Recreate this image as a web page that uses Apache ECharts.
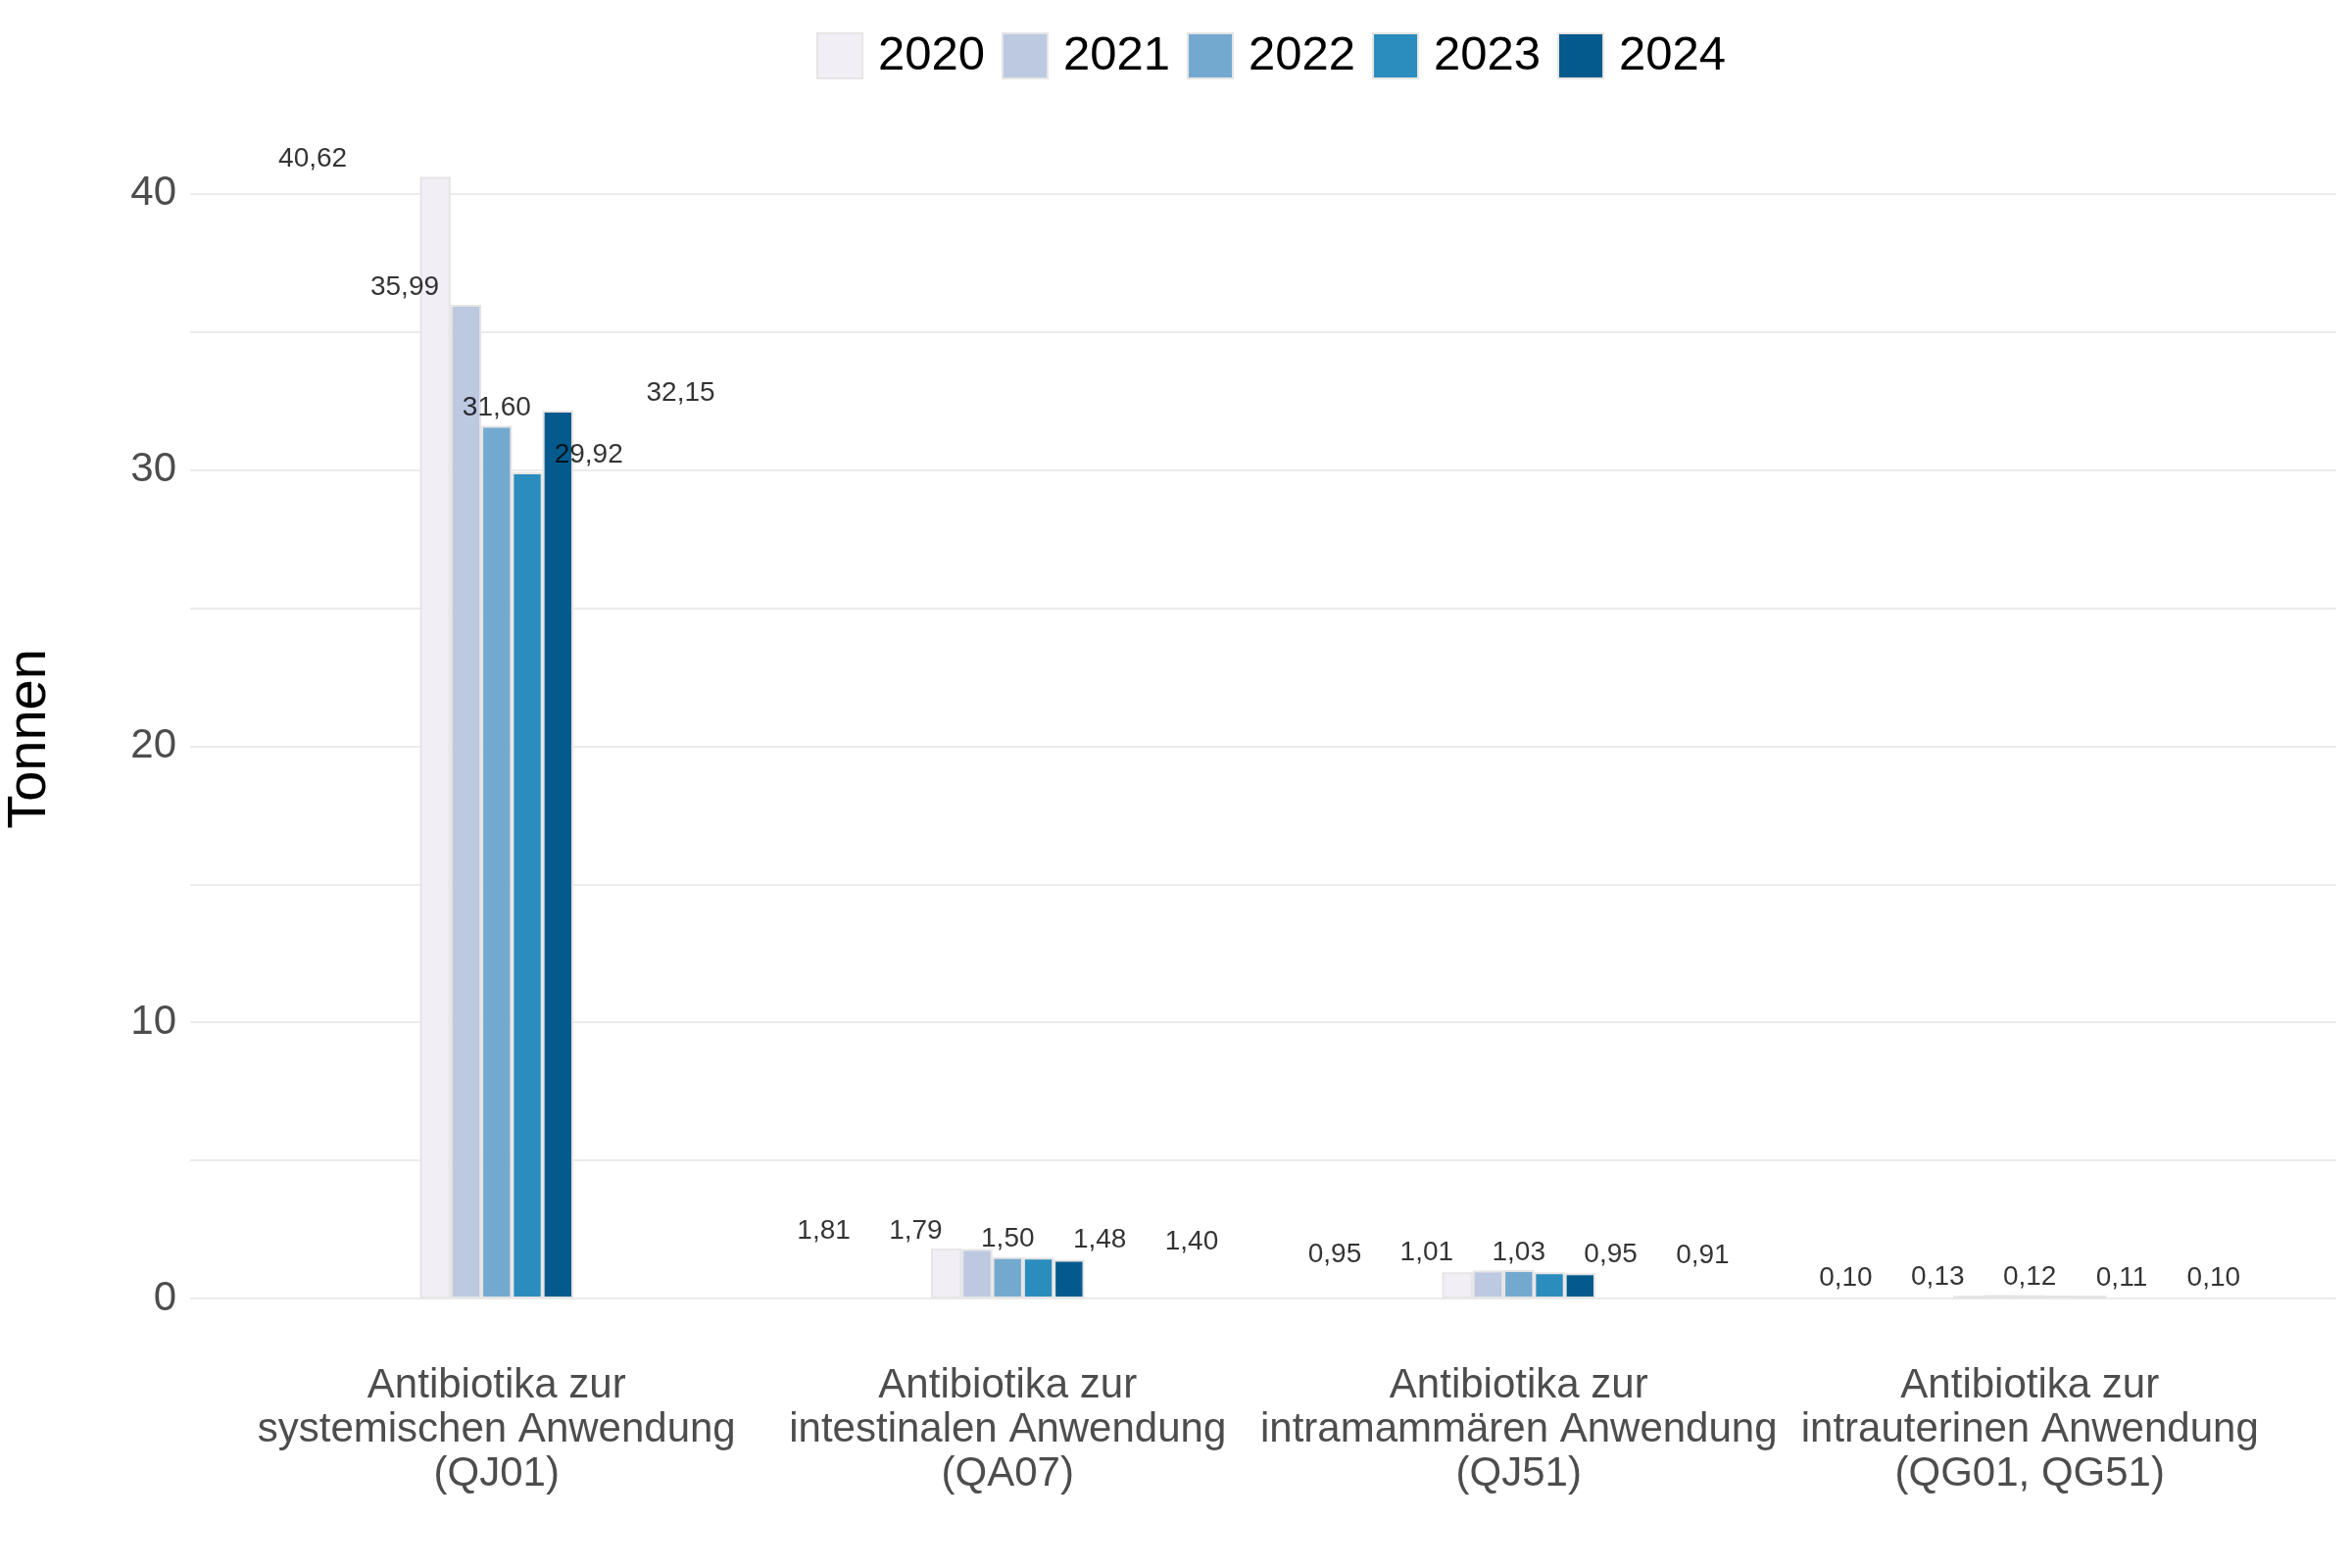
<!DOCTYPE html>
<html>
<head>
<meta charset="utf-8">
<script src="https://cdn.jsdelivr.net/npm/echarts@6/dist/echarts.min.js"></script>
<style>
html,body{margin:0;padding:0;background:#fff;}
#chart{width:2400px;height:1600px;}
</style>
</head>
<body>
<div id="chart"></div>
<script>
const categories = [
  'Antibiotika zur\nsystemischen Anwendung\n(QJ01)',
  'Antibiotika zur\nintestinalen Anwendung\n(QA07)',
  'Antibiotika zur\nintramammären Anwendung\n(QJ51)',
  'Antibiotika zur\nintrauterinen Anwendung\n(QG01, QG51)'
];
const years = ['2020', '2021', '2022', '2023', '2024'];
const v2020 = [40.62, 1.81, 0.95, 0.10];
const v2021 = [35.99, 1.79, 1.01, 0.13];
const v2022 = [31.60, 1.50, 1.03, 0.12];
const v2023 = [29.92, 1.48, 0.95, 0.11];
const v2024 = [32.15, 1.40, 0.91, 0.10];
const yTicks = [0, 10, 20, 30, 40];
const colors = ['#f1eef6', '#bdc9e1', '#74a9cf', '#2b8cbe', '#045a8d'];

const values = [v2020, v2021, v2022, v2023, v2024];
const FONT = '"Liberation Sans", Arial, sans-serif';
const labelDodge = 0.18; // label dodge step in category units

const fmt = v => v.toFixed(2).replace('.', ',');

const series = [];
values.forEach((vals, j) => {
  series.push({
    name: years[j],
    type: 'bar',
    xAxisIndex: 1,
    yAxisIndex: 1,
    data: vals,
    barWidth: '6%',
    barGap: '0%',
    itemStyle: { color: colors[j], borderColor: '#e5e5e5', borderWidth: 2 },
    emphasis: { disabled: true },
    z: 3
  });
});
values.forEach((vals, j) => {
  series.push({
    name: 'label' + years[j],
    type: 'scatter',
    xAxisIndex: 0,
    yAxisIndex: 0,
    symbolSize: 0,
    silent: true,
    data: vals.map((v, i) => [i + 1 + (j - 2) * labelDodge, v]),
    label: {
      show: true,
      position: 'top',
      distance: 4,
      fontFamily: FONT,
      fontSize: 28,
      color: '#000',
      formatter: p => fmt(p.value[1])
    },
    z: 5
  });
});

const chart = echarts.init(document.getElementById('chart'));
chart.setOption({
  animation: false,
  backgroundColor: '#fff',
  textStyle: { fontFamily: FONT },
  legend: {
    data: years,
    left: 833,
    top: 32,
    padding: 0,
    icon: 'rect',
    itemWidth: 46,
    itemHeight: 46,
    itemGap: 17,
    textStyle: { fontFamily: FONT, fontSize: 49, color: '#000', padding: [0, 0, 0, 11], lineHeight: 50 }
  },
  grid: [
    { left: 194, right: 16, top: 57, bottom: 275 },
    { left: 246, right: 68, top: 57, bottom: 275 }
  ],
  xAxis: [
    { type: 'value', gridIndex: 0, min: 0.4, max: 4.6, show: false },
    {
      type: 'category', gridIndex: 1, data: categories,
      axisLine: { show: false }, axisTick: { show: false },
      axisLabel: { fontFamily: FONT, fontSize: 42, lineHeight: 45, color: '#4d4d4d', margin: 67, interval: 0 }
    }
  ],
  yAxis: [
    {
      type: 'value', gridIndex: 0, min: 0, max: 45, interval: 5,
      axisLine: { show: false }, axisTick: { show: false },
      axisLabel: {
        fontFamily: FONT, fontSize: 42, color: '#4d4d4d', margin: 14,
        formatter: v => (yTicks.indexOf(v) >= 0 ? String(v) : '')
      },
      splitLine: {
        show: true, showMaxLine: false,
        lineStyle: { width: 2, color: ['#ebebeb','#ebebeb','#ebebeb','#ebebeb','#ebebeb','#ebebeb','#ebebeb','#ebebeb','#ebebeb','rgba(0,0,0,0)'] }
      }
    },
    { type: 'value', gridIndex: 1, min: 0, max: 45, show: false, splitLine: { show: false } }
  ],
  graphic: [{
    type: 'text',
    x: 31, y: 754,
    rotation: Math.PI / 2,
    style: { text: 'Tonnen', fontFamily: FONT, fontSize: 56, fill: '#000', textAlign: 'center', textVerticalAlign: 'middle' }
  }],
  series: series
});
</script>
</body>
</html>
